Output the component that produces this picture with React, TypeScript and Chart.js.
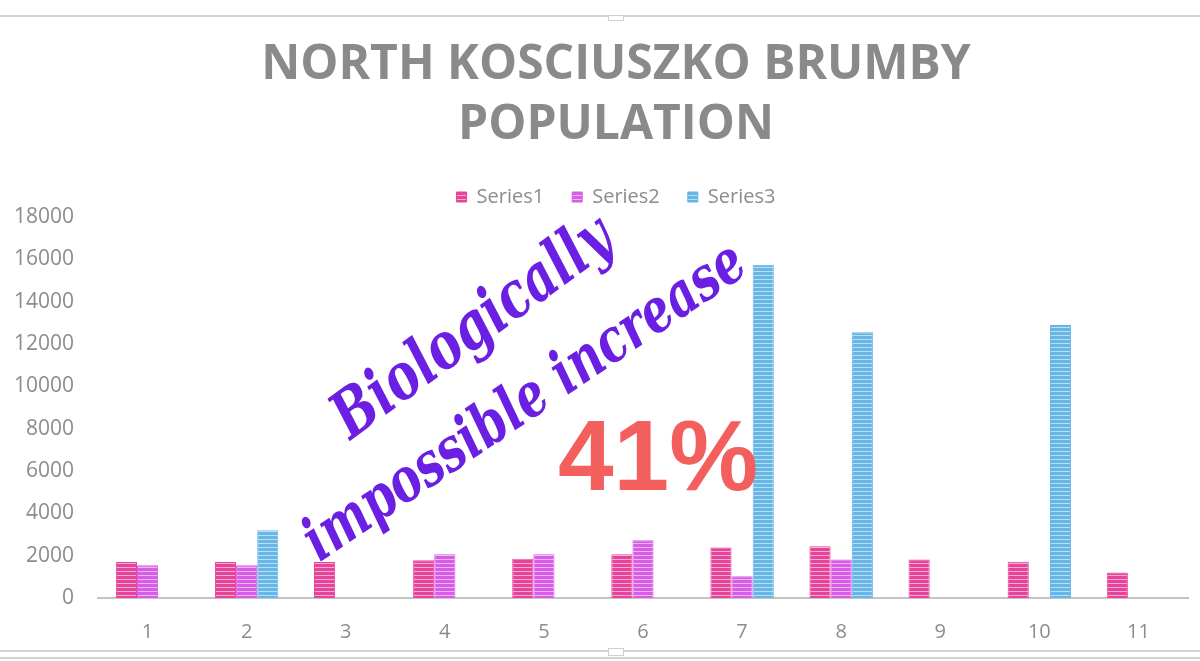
import React, { useEffect, useRef } from "react";
import { Chart, registerables } from "chart.js";

Chart.register(...registerables);

const categories = ["1", "2", "3", "4", "5", "6", "7", "8", "9", "10", "11"];
const series1: (number | null)[] = [1700, 1700, 1700, 1780, 1860, 2070, 2380, 2450, 1820, 1710, 1200];
const series2: (number | null)[] = [1550, 1550, null, 2070, 2070, 2730, 1030, 1820, null, null, null];
const series3: (number | null)[] = [null, 3200, null, null, null, null, 15750, 12550, null, 12900, null];
const seriesNames = ["Series1", "Series2", "Series3"];
const titleLines = ["NORTH KOSCIUSZKO BRUMBY", "POPULATION"];
const yMax = 18000;
const yStep = 2000;
const noteLine1 = "Biologically";
const noteLine2 = "impossible increase";
const noteBig = "41%";

function stripes(base: string, light: string): CanvasPattern | string {
  const c = document.createElement("canvas");
  c.width = 4;
  c.height = 4;
  const g = c.getContext("2d");
  if (!g) return base;
  g.fillStyle = base;
  g.fillRect(0, 0, 4, 4);
  g.fillStyle = light;
  g.fillRect(0, 3, 4, 1);
  const p = g.createPattern(c, "repeat");
  return p || base;
}

const framePlugin = {
  id: "frame",
  afterLayout(chart: any) {
    // let the y tick labels extend left of the axis box without being clipped
    if (chart.scales && chart.scales.y) chart.scales.y.left = 0;
  },
  beforeDraw(chart: any) {
    const ctx = chart.ctx;
    ctx.save();
    ctx.fillStyle = "#ffffff";
    ctx.fillRect(0, 0, chart.width, chart.height);
    ctx.strokeStyle = "#d4d4d4";
    ctx.lineWidth = 2;
    ctx.beginPath();
    ctx.moveTo(0, 16);
    ctx.lineTo(chart.width, 16);
    ctx.moveTo(0, 651);
    ctx.lineTo(chart.width, 651);
    ctx.moveTo(0, 658);
    ctx.lineTo(chart.width, 658);
    ctx.stroke();
    ctx.fillStyle = "#ffffff";
    ctx.strokeStyle = "#cfcfcf";
    ctx.lineWidth = 1;
    ctx.fillRect(608, 15, 16, 6);
    ctx.strokeRect(608.5, 15.5, 15, 5);
    ctx.fillRect(608, 648, 16, 8);
    ctx.strokeRect(608.5, 648.5, 15, 7);
    ctx.restore();
  },
};

function fitText(ctx: CanvasRenderingContext2D, text: string, style: string, family: string, target: number) {
  ctx.font = `${style} 100px ${family}`;
  const w = ctx.measureText(text).width;
  const size = (100 * target) / w;
  ctx.font = `${style} ${size}px ${family}`;
}

const notesPlugin = {
  id: "notes",
  afterDatasetsDraw(chart: any) {
    const ctx: CanvasRenderingContext2D = chart.ctx;
    ctx.save();
    ctx.fillStyle = "#6a1fe3";
    ctx.textAlign = "center";
    ctx.textBaseline = "middle";
    const fam = "'DejaVu Serif', serif";
    ctx.save();
    ctx.translate(474, 330);
    ctx.rotate((-36 * Math.PI) / 180);
    ctx.scale(1, 1.3);
    fitText(ctx, noteLine1, "italic bold", fam, 330);
    ctx.fillText(noteLine1, 0, 0);
    ctx.restore();
    ctx.save();
    ctx.translate(526, 404);
    ctx.rotate((-34 * Math.PI) / 180);
    ctx.scale(1, 1.3);
    fitText(ctx, noteLine2, "italic bold", fam, 520);
    ctx.fillText(noteLine2, 0, 0);
    ctx.restore();
    ctx.fillStyle = "#f35f5d";
    ctx.textAlign = "left";
    ctx.textBaseline = "alphabetic";
    ctx.font = "bold 100px 'Liberation Sans', Arial, sans-serif";
    ctx.fillText(noteBig, 558, 490);
    ctx.restore();
  },
};

export default function App() {
  const ref = useRef<HTMLCanvasElement | null>(null);
  useEffect(() => {
    document.body.style.margin = "0";
    const canvas = ref.current;
    if (!canvas) return;
    const p1 = stripes("#e6449a", "#f7a9cf");
    const p2 = stripes("#d75de6", "#efb3f6");
    const p3 = stripes("#66b6e6", "#b9def5");
    const chart = new Chart(canvas, {
      type: "bar",
      data: {
        labels: categories,
        datasets: [
          { label: seriesNames[0], data: series1, backgroundColor: p1 as any, borderColor: "#e6449a", borderWidth: 1 },
          { label: seriesNames[1], data: series2, backgroundColor: p2 as any, borderColor: "#d75de6", borderWidth: 1 },
          { label: seriesNames[2], data: series3, backgroundColor: p3 as any, borderColor: "#66b6e6", borderWidth: 1 },
        ],
      },
      options: {
        responsive: false,
        animation: false,
        devicePixelRatio: 1,
        layout: { padding: { left: 44, right: 12, top: 0, bottom: 0 } },
        datasets: { bar: { categoryPercentage: 0.64, barPercentage: 1 } },
        plugins: {
          title: {
            display: true,
            text: titleLines,
            color: "#8a8a8a",
            font: { family: "'Open Sans', sans-serif", size: 48, weight: "bold", lineHeight: 1.25 },
            padding: { top: 35, bottom: 4 },
          },
          legend: {
            display: true,
            position: "top",
            labels: {
              color: "#8c8c8c",
              font: { family: "'Open Sans', sans-serif", size: 20 },
              boxWidth: 10,
              boxHeight: 10,
              padding: 28,
            },
          },
          tooltip: { enabled: false },
        },
        scales: {
          x: {
            grid: { display: false, drawTicks: false },
            border: { display: true, color: "#c4c4c4", width: 2 },
            ticks: { color: "#8c8c8c", font: { family: "'Open Sans', sans-serif", size: 20 }, padding: 22 },
            afterFit: (scale: any) => {
              scale.height = 63;
            },
          },
          y: {
            min: 0,
            max: yMax,
            grid: { display: false, drawTicks: false },
            border: { display: false },
            ticks: {
              stepSize: yStep,
              color: "#8c8c8c",
              font: { family: "'Open Sans', sans-serif", size: 21 },
              padding: 24,
              callback: (v: any) => String(v),
            },
            afterFit: (scale: any) => {
              scale.width = 54;
            },
          },
        },
      },
      plugins: [framePlugin, notesPlugin],
    });
    return () => chart.destroy();
  }, []);
  return (
    <div style={{ width: 1200, height: 661, position: "relative" }}>
      <canvas ref={ref} width={1200} height={661} style={{ display: "block" }} />
    </div>
  );
}
